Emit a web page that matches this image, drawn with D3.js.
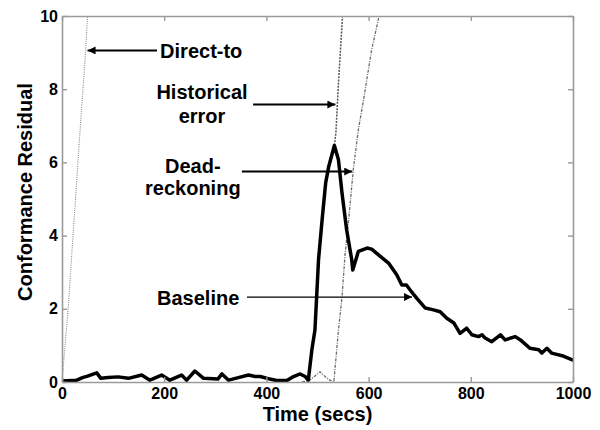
<!DOCTYPE html>
<html><head><meta charset="utf-8">
<script src="https://cdn.jsdelivr.net/npm/d3@7/dist/d3.min.js"></script>
<style>body{margin:0;background:#fff}svg{display:block}</style>
</head><body>
<svg id="chart" width="600" height="430"></svg>
<script>
// ---- data ----
const xTicks = [0, 200, 400, 600, 800, 1000];
const yTicks = [0, 2, 4, 6, 8, 10];
const xLabel = "Time (secs)";
const yLabel = "Conformance Residual";

const baselineT = [0,29,40,50,68,76,90,110,130,156,172,195,211,234,244,260,277,305,313,326,345,365,378,388,407,420,440,453,466,476,482,489,495,502,509,516,522,533,541,548,557,567,569,580,597,606,623,639,655,665,674,681,694,711,727,740,753,767,779,792,802,815,822,828,841,858,867,887,897,916,933,939,949,958,981,1000];
const baselineV = [0.03,0.05,0.12,0.16,0.25,0.1,0.12,0.14,0.1,0.19,0.05,0.19,0.05,0.19,0.05,0.3,0.1,0.08,0.22,0.05,0.12,0.19,0.15,0.15,0.08,0.04,0.04,0.15,0.22,0.15,0.05,0.88,1.42,3.34,4.43,5.44,5.89,6.46,6.07,5.16,4.16,3.34,3.06,3.57,3.66,3.63,3.43,3.25,2.93,2.65,2.65,2.52,2.29,2.02,1.97,1.92,1.74,1.61,1.33,1.47,1.29,1.24,1.29,1.2,1.1,1.29,1.15,1.24,1.15,0.92,0.88,0.79,0.92,0.79,0.71,0.6];

const directT = [0, 3, 12, 24, 35, 45, 50];
const directV = [0, 0.5, 2.0, 4.5, 6.8, 8.8, 10];

const historicalT = [482, 489, 495, 502, 509, 516, 522, 533, 536, 541, 549];
const historicalV = [0.05, 0.88, 1.42, 3.34, 4.43, 5.44, 5.89, 6.46, 6.8, 8.17, 10];

const deadT = [470, 485, 505, 521, 532, 541, 548, 554, 561, 570, 580, 590, 606, 620];
const deadV = [0, 0.05, 0.28, 0.07, 0, 1.42, 2.33, 3.5, 4.43, 5.8, 6.9, 7.7, 9.08, 9.96];

// annotations in data units: text lines, text anchor point, arrow from/to
const annotations = [
  {lines:["Direct-to"], anchor:"start", tx:192, ty:[8.86], ax1:186, ax2:50, ay:9.06, w:2},
  {lines:["Historical","error"], anchor:"middle", tx:274, ty:[7.72,7.09], ax1:374, ax2:535, ay:7.58, w:2},
  {lines:["Dead-","reckoning"], anchor:"middle", tx:256, ty:[5.72,5.1], ax1:352, ax2:568, ay:5.75, w:2},
  {lines:["Baseline"], anchor:"start", tx:186, ty:[2.1], ax1:362, ax2:685, ay:2.32, w:1.2}
];

// ---- layout ----
const svg = d3.select("#chart");
const m = {left:62, top:16, right:27, bottom:48};
const W = 600, H = 430;
const x = d3.scaleLinear().domain([0, 1000]).range([m.left, W - m.right]);
const y = d3.scaleLinear().domain([0, 10]).range([H - m.bottom, m.top]);

const defs = svg.append("defs");
defs.append("clipPath").attr("id","clip").append("rect")
  .attr("x", x(0)).attr("y", y(10)).attr("width", x(1000)-x(0)).attr("height", y(0)-y(10));
defs.append("marker").attr("id","arr").attr("viewBox","0 0 10 10")
  .attr("refX",10).attr("refY",5).attr("markerUnits","userSpaceOnUse")
  .attr("markerWidth",9).attr("markerHeight",8).attr("orient","auto")
  .append("path").attr("d","M0,0L10,5L0,10Z").attr("fill","#000");

const axisColor = "#9a9a9a";
const fontFam = "Arial, 'Liberation Sans', Helvetica, sans-serif";
const fmt = d3.format("d");

function styleAxis(g){
  g.select(".domain").attr("stroke", axisColor).attr("stroke-width", 1.6);
  g.selectAll(".tick line").attr("stroke", axisColor).attr("stroke-width", 1.4);
  g.selectAll(".tick text").attr("fill","#000").attr("font-family", fontFam)
    .attr("font-weight","bold").attr("font-size", 16);
}

// lines
const line = d3.line().x(d => x(d[0])).y(d => y(d[1]));
const plot = svg.append("g").attr("clip-path","url(#clip)");

plot.append("path").datum(directT.map((t,i)=>[t,directV[i]]))
  .attr("d", line).attr("fill","none").attr("stroke","#8a8a8a")
  .attr("stroke-width",1.1).attr("stroke-dasharray","1,1.2");

plot.append("path").datum(deadT.map((t,i)=>[t,deadV[i]]))
  .attr("d", line).attr("fill","none").attr("stroke","#6a6a6a")
  .attr("stroke-width",1.3).attr("stroke-dasharray","3,1.3,1,1.3");

plot.append("path").datum(historicalT.map((t,i)=>[t,historicalV[i]]))
  .attr("d", line).attr("fill","none").attr("stroke","#555")
  .attr("stroke-width",1.5).attr("stroke-dasharray","2,1.2");

plot.append("path").datum(baselineT.map((t,i)=>[t,baselineV[i]]))
  .attr("d", line).attr("fill","none").attr("stroke","#000")
  .attr("stroke-width",3.5).attr("stroke-linejoin","round").attr("stroke-linecap","round");

// axes (inside ticks, box)
svg.append("g").attr("transform",`translate(0,${y(0)})`)
  .call(d3.axisBottom(x).tickValues(xTicks).tickFormat(fmt).tickSizeInner(-5).tickSizeOuter(0).tickPadding(6))
  .call(styleAxis);
svg.append("g").attr("transform",`translate(${x(0)},0)`)
  .call(d3.axisLeft(y).tickValues(yTicks).tickFormat(fmt).tickSizeInner(-5).tickSizeOuter(0).tickPadding(4))
  .call(styleAxis);
svg.append("g").attr("transform",`translate(0,${y(10)})`)
  .call(d3.axisTop(x).tickValues(xTicks).tickSizeInner(-5).tickSizeOuter(0).tickFormat(""))
  .call(styleAxis);
svg.append("g").attr("transform",`translate(${x(1000)},0)`)
  .call(d3.axisRight(y).tickValues(yTicks).tickSizeInner(-5).tickSizeOuter(0).tickFormat(""))
  .call(styleAxis);

// axis titles
svg.append("text").attr("x", (x(0)+x(1000))/2).attr("y", 421)
  .attr("text-anchor","middle").attr("font-family",fontFam).attr("font-weight","bold")
  .attr("font-size",20).text(xLabel);
svg.append("text").attr("transform",`translate(32,${(y(0)+y(10))/2 - 7}) rotate(-90)`)
  .attr("text-anchor","middle").attr("font-family",fontFam).attr("font-weight","bold")
  .attr("font-size",20).text(yLabel);

// annotations
annotations.forEach(a => {
  a.lines.forEach((l,i) => {
    svg.append("text").attr("x", x(a.tx)).attr("y", y(a.ty[i]))
      .attr("text-anchor", a.anchor).attr("font-family",fontFam).attr("font-weight","bold")
      .attr("font-size",20).text(l);
  });
  svg.append("line").attr("x1", x(a.ax1)).attr("x2", x(a.ax2))
    .attr("y1", y(a.ay)).attr("y2", y(a.ay))
    .attr("stroke","#000").attr("stroke-width", a.w).attr("marker-end","url(#arr)");
});
</script>
</body></html>
